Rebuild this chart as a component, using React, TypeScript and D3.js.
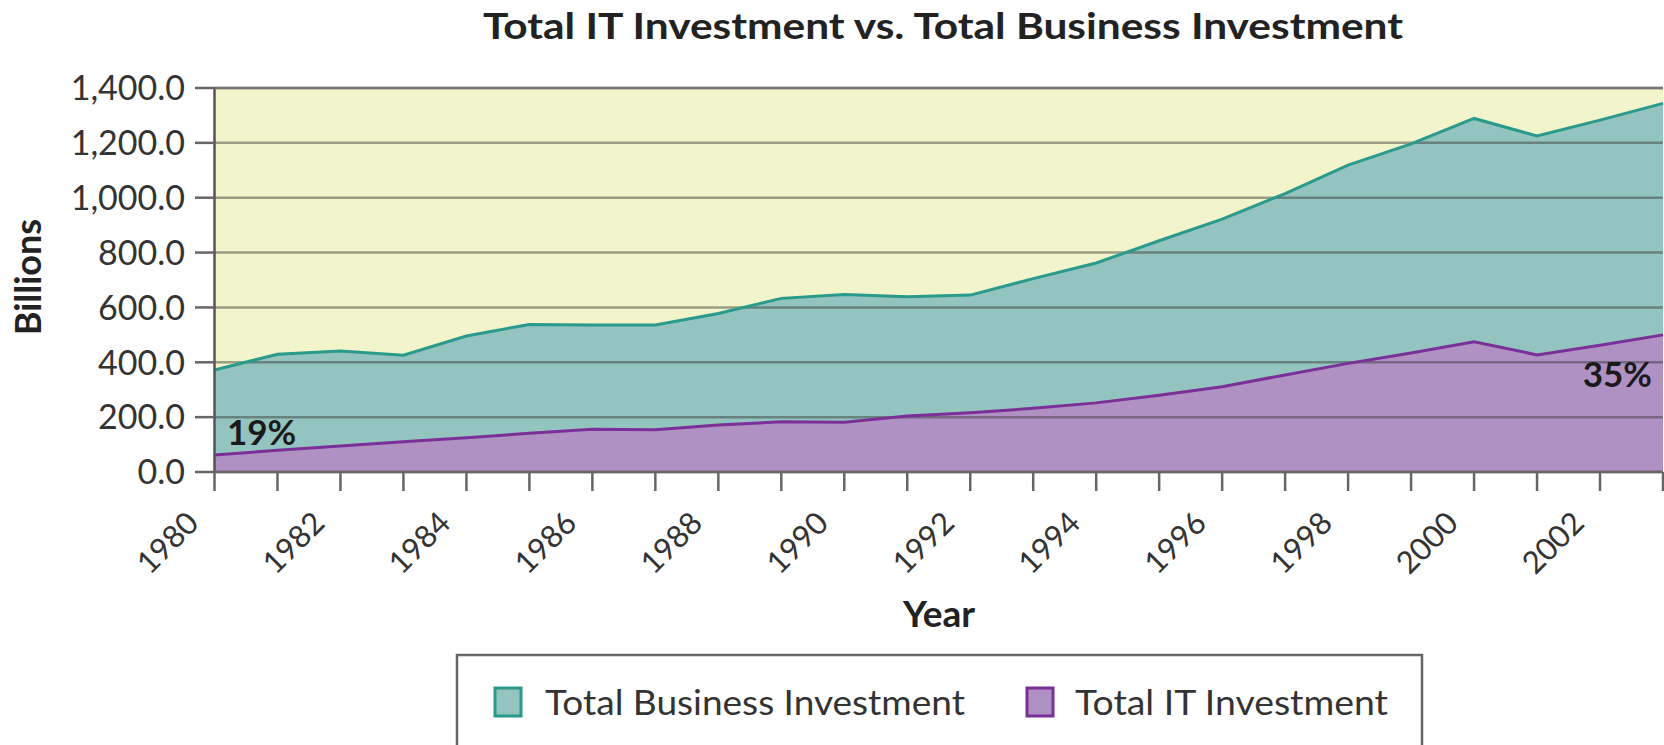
import React from "react";
import * as d3 from "d3";

const years = [1980,1981,1982,1983,1984,1985,1986,1987,1988,1989,1990,1991,1992,1993,1994,1995,1996,1997,1998,1999,2000,2001,2002,2003];
const businessInvestment = [372,429,441,426,496,538,536,536,578,633,647,639,645,705,762,843,922,1015,1119,1196,1289,1225,1283,1344];
const itInvestment = [62,79,95,110,125,141,156,154,171,183,181,204,216,232,252,280,311,354,396,434,475,427,462,500];
const yTicks = [0,200,400,600,800,1000,1200,1400];
const xLabelYears = [1980,1982,1984,1986,1988,1990,1992,1994,1996,1998,2000,2002];
const seriesNames = ["Total Business Investment", "Total IT Investment"];
const title = "Total IT Investment vs. Total Business Investment";
const startLabel = "19%";
const endLabel = "35%";

const W = 1664, H = 745;
const left = 214.5, right = 1663, top = 88, bottom = 472;
const FONT = "Lato, 'Open Sans', sans-serif";

export default function App() {
  const x = d3.scaleLinear().domain([1980, 2003]).range([left, right]);
  const y = d3.scaleLinear().domain([0, 1400]).range([bottom, top]);

  const bizData = years.map((yr, i) => ({ yr, v: businessInvestment[i] }));
  const itData = years.map((yr, i) => ({ yr, v: itInvestment[i] }));

  const area = d3.area<{ yr: number; v: number }>()
    .x(d => x(d.yr)).y0(y(0)).y1(d => y(d.v));
  const line = d3.line<{ yr: number; v: number }>()
    .x(d => x(d.yr)).y(d => y(d.v));

  const fmt = d3.format(",.1f");

  return (
    <svg width={W} height={H} style={{ position: "absolute", left: 0, top: 0, background: "#fff" }}
      fontFamily={FONT}>
      <text x={943} y={39} textAnchor="middle" fontSize={36} fontWeight={700} fill="#222"
        textLength={920} lengthAdjust="spacingAndGlyphs">{title}</text>

      <rect x={left} y={top} width={right - left} height={bottom - top} fill="#f2f4cc" />
      <path d={area(bizData) || ""} fill="#94c4bf" />
      <path d={area(itData) || ""} fill="#b091c4" />

      {yTicks.map(t => (
        <line key={"g" + t} x1={left} x2={right} y1={y(t)} y2={y(t)} stroke="#333" strokeOpacity={0.45} strokeWidth={2.5} />
      ))}

      <path d={line(bizData) || ""} fill="none" stroke="#2a9a8c" strokeWidth={3} />
      <path d={line(itData) || ""} fill="none" stroke="#7b2f98" strokeWidth={3} />

      <line x1={left} x2={left} y1={top - 1} y2={bottom + 1} stroke="#555" strokeWidth={2.5} />
      <line x1={left} x2={right} y1={top} y2={top} stroke="#777" strokeWidth={2.5} />
      <line x1={left} x2={right} y1={bottom} y2={bottom} stroke="#666" strokeWidth={2.5} />

      {yTicks.map(t => (
        <g key={"yt" + t}>
          <line x1={195} x2={left} y1={y(t)} y2={y(t)} stroke="#666" strokeWidth={2.5} />
          <text x={185} y={y(t)} dy="0.36em" textAnchor="end" fontSize={34} fill="#333">{fmt(t)}</text>
        </g>
      ))}

      {years.map(yr => (
        <line key={"xt" + yr} x1={x(yr)} x2={x(yr)} y1={bottom} y2={bottom + 19} stroke="#666" strokeWidth={2.5} />
      ))}
      {xLabelYears.map(yr => (
        <text key={"xl" + yr} transform={`translate(${x(yr) - 14},${525}) rotate(-45)`} textAnchor="end"
          fontSize={31} fill="#333">{yr}</text>
      ))}

      <text transform={`translate(41,277) rotate(-90)`} textAnchor="middle" fontSize={36} fontWeight={700} fill="#222">Billions</text>
      <text x={939} y={627} textAnchor="middle" fontSize={37} fontWeight={700} fill="#222">Year</text>

      <text x={227} y={445} fontSize={35} fontWeight={700} fill="#1a1a1a">{startLabel}</text>
      <text x={1652} y={387} textAnchor="end" fontSize={35} fontWeight={700} fill="#1a1a1a">{endLabel}</text>

      <rect x={457} y={655} width={965} height={110} fill="#fff" stroke="#666" strokeWidth={2.5} />
      <rect x={495} y={688} width={26} height={28} fill="#94c4bf" stroke="#2a9a8c" strokeWidth={3} />
      <text x={545} y={715} fontSize={35} fill="#333" textLength={420} lengthAdjust="spacingAndGlyphs">{seriesNames[0]}</text>
      <rect x={1027} y={688} width={26} height={28} fill="#b091c4" stroke="#7b2f98" strokeWidth={3} />
      <text x={1075} y={715} fontSize={35} fill="#333" textLength={313} lengthAdjust="spacingAndGlyphs">{seriesNames[1]}</text>
    </svg>
  );
}
